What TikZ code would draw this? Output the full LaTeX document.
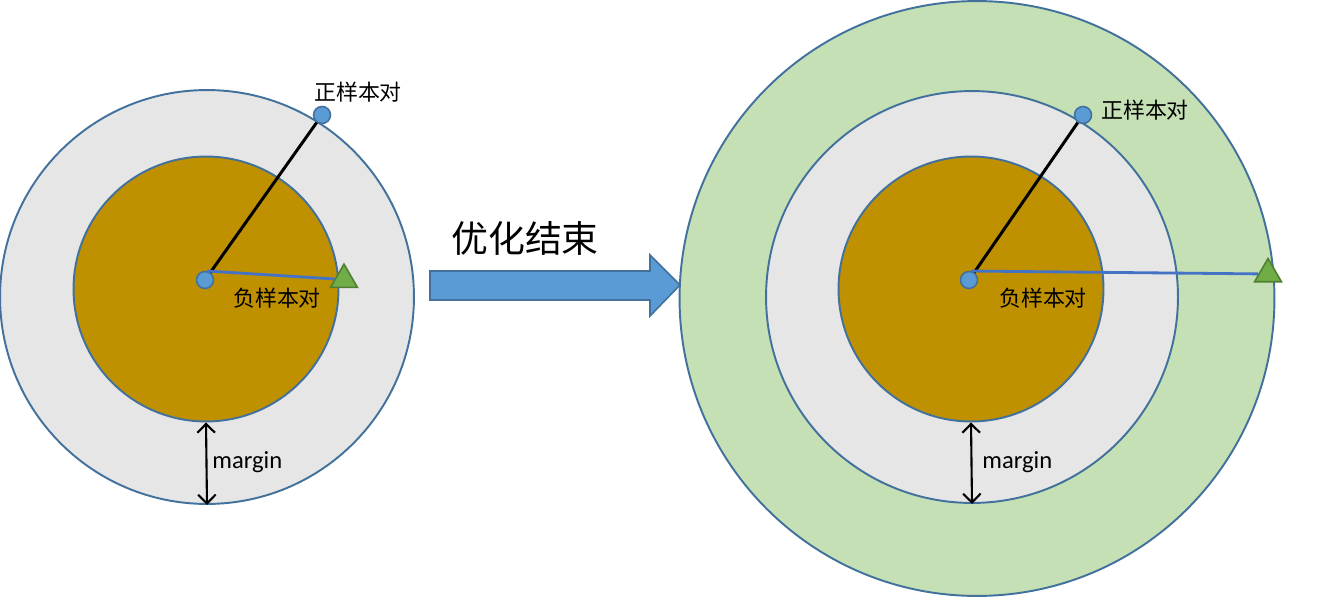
\documentclass[tikz,border=0pt]{standalone}
\usepackage{fontspec}
\setmainfont{Carlito}
\newfontfamily\cjk{Noto Sans CJK SC}
\usetikzlibrary{shapes.geometric, arrows.meta, positioning}
\definecolor{ringblue}{RGB}{65, 113, 156}
\definecolor{ringgray}{RGB}{230, 230, 230}
\definecolor{coreorange}{RGB}{191, 144, 0}
\definecolor{outgreen}{RGB}{197, 224, 180}
\definecolor{dotblue}{RGB}{91, 155, 213}
\definecolor{linkblue}{RGB}{68, 114, 196}
\definecolor{trigreen}{RGB}{112, 173, 71}
\definecolor{triedge}{RGB}{80, 126, 50}

\begin{document}
\begin{tikzpicture}[x=0.02cm, y=-0.02cm,
  ring/.style={circle, draw=ringblue, line width=1.1pt, inner sep=0pt},
  pt/.style={circle, draw=ringblue, fill=dotblue, line width=0.9pt, minimum size=0.34cm, inner sep=0pt},
  tri/.style={regular polygon, regular polygon sides=3, draw=triedge, fill=trigreen, line width=0.9pt, minimum size=0.62cm, inner sep=0pt},
  cjklab/.style={font=\cjk\fontsize{12.5}{14}\selectfont, inner sep=0pt},
  marginlab/.style={font=\fontsize{14}{16}\selectfont, anchor=west, inner sep=0pt},
  gap/.style={{Straight Barb[length=5pt, width=10pt]}-{Straight Barb[length=5pt, width=10pt]}, line width=1.2pt}
  ]
  \useasboundingbox (0,0) rectangle (1331,598);

  % Before optimisation (left)
  \node[ring, fill=ringgray, minimum size=8.28cm] (lout) at (207, 297) {};
  \node[ring, fill=coreorange, minimum size=5.3cm] (lin) at (206, 289) {};
  \node[pt] (lc) at (205, 280) {};
  \node[pt] (lp) at (322, 115) {};
  \node[tri] (ln) at (344, 279.6) {};
  \draw[line width=1.7pt] (lc) -- (lp);
  \draw[linkblue, line width=1.6pt] (lc.75) -- (ln);
  \node[cjklab] (lplab) at (358, 92) {正样本对};
  \node[cjklab] (lnlab) at (277, 298) {负样本对};
  \draw[gap] (lin.south) -- (lout.south);
  \node[marginlab] (lgap) at (212, 462) {margin};

  % Block arrow
  \draw[ringblue, fill=dotblue, line width=0.9pt]
    (430, 271) -- (650, 271) -- (650, 255) -- (680, 285) -- (650, 316) -- (650, 300) -- (430, 300) -- cycle;
  \node[font=\cjk\fontsize{21}{24}\selectfont, inner sep=0pt] (done) at (525, 238) {优化结束};

  % After optimisation (right)
  \node[ring, fill=outgreen, minimum size=11.9cm] (rgreen) at (977, 298.5) {};
  \node[ring, fill=ringgray, minimum size=8.24cm] (rout) at (972, 297) {};
  \node[ring, fill=coreorange, minimum size=5.3cm] (rin) at (971, 289) {};
  \node[pt] (rc) at (969, 280) {};
  \node[pt] (rp) at (1083, 115) {};
  \node[tri] (rn) at (1268, 274) {};
  \draw[line width=1.7pt] (rc) -- (rp);
  \draw[linkblue, line width=1.6pt] (rc.75) -- (rn);
  \node[cjklab] (rplab) at (1145, 110) {正样本对};
  \node[cjklab] (rnlab) at (1043, 298) {负样本对};
  \draw[gap] (rin.south) -- (rout.south);
  \node[marginlab] (rgap) at (982, 462) {margin};
\end{tikzpicture}
\end{document}
